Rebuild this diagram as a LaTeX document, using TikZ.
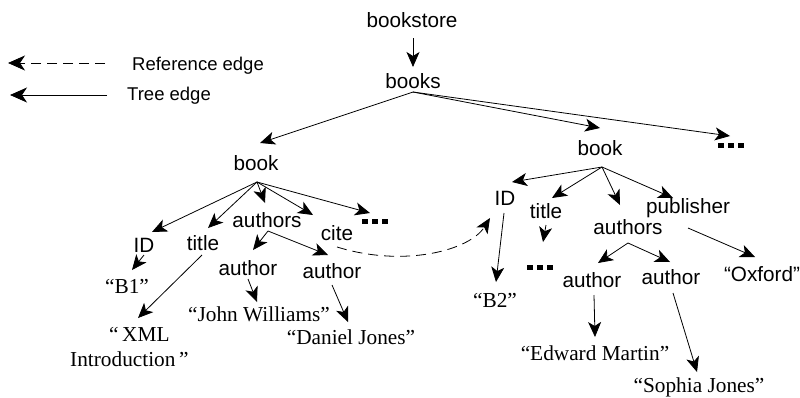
\documentclass[tikz,border=0pt]{standalone}
\usepackage{fontspec}
\setmainfont{Liberation Serif}
\setsansfont{Liberation Sans}
\usetikzlibrary{arrows.meta}

% three square dots standing for omitted children
\newcommand{\elidedkids}{\rule{5.5pt}{5.5pt}\hspace{4.5pt}\rule{5.5pt}{5.5pt}\hspace{4.5pt}\rule{5.5pt}{5.5pt}}

\tikzset{
  headtree/.tip={Stealth[length=15pt,width=13pt,inset=4pt]},
  headlegend/.tip={Stealth[length=17pt,width=15pt,inset=5pt]},
  lbl/.style={font=\fontsize{20.7}{24}\selectfont\sffamily, inner sep=0pt, anchor=base},
  val/.style={font=\fontsize{21.3}{25}\selectfont\rmfamily, inner sep=0pt, anchor=base},
  more/.style={inner sep=0pt, anchor=center},
  legendtext/.style={font=\fontsize{18.5}{22}\selectfont\sffamily, inner sep=0pt, anchor=base west},
  tree/.style={-headtree, line width=0.8pt},
  ref/.style={tree, dash pattern=on 10pt off 6pt},
  legendtip/.style={-headlegend},
}

\begin{document}
\begin{tikzpicture}[x=1pt, y=-1pt]
\useasboundingbox (0,0) rectangle (800,397);

% legend
\coordinate (refFrom) at (105,63);
\coordinate (refTo) at (8,63);
\coordinate (treeFrom) at (107,95);
\coordinate (treeTo) at (10,95);
\draw[ref, legendtip] (refFrom) -- (refTo);
\draw[tree, legendtip] (treeFrom) -- (treeTo);
\node[legendtext] (refText) at (132,70) {Reference edge};
\node[legendtext] (treeText) at (127,100) {Tree edge};

% upper levels
\node[lbl] (bookstore) at (412,27) {bookstore};
\node[lbl] (books) at (413,88) {books};
\node[lbl] (bookL) at (256,170) {book};
\node[lbl] (bookR) at (600,155) {book};
\node[more] (dotsTop) at (731,145.5) {\elidedkids};

% first book
\node[lbl] (idL) at (144,252) {ID};
\node[lbl] (titleL) at (203,250) {title};
\node[lbl] (authorsL) at (267,227) {authors};
\node[lbl] (citeL) at (337,240) {cite};
\node[more] (dotsL) at (375,221.5) {\elidedkids};
\node[val] (b1) at (127,293) {“B1”};
\node[val, anchor=north west, align=left] (xml) at (70,327) {\hspace*{39pt}“\,XML\\Introduction\,”};
\node[lbl] (author1L) at (248,275) {author};
\node[lbl] (author2L) at (332,278) {author};
\node[val] (john) at (259,321) {“John Williams”};
\node[val] (daniel) at (351,344) {“Daniel Jones”};

% second book
\node[lbl] (idR) at (505,205) {ID};
\node[lbl] (titleR) at (546,218) {title};
\node[lbl] (authorsR) at (628,234) {authors};
\node[lbl] (publisher) at (688,213) {publisher};
\node[more] (dotsR) at (540,267.5) {\elidedkids};
\node[val] (b2) at (495,307) {“B2”};
\node[lbl] (author1R) at (592,287) {author};
\node[lbl] (author2R) at (671,284) {author};
\node[lbl] (oxford) at (762,281) {“Oxford”};
\node[val] (edward) at (595,360) {“Edward Martin”};
\node[val] (sophia) at (699,392) {“Sophia Jones”};

% tree edges
\draw[tree] ([xshift=1pt,yshift=-11pt]bookstore.base) -- ([yshift=21pt]books.base);
\draw[tree] ([yshift=-4pt]books.base) -- ([xshift=4pt,yshift=27pt]bookL.base);
\draw[tree] ([yshift=-4pt]books.base) -- ([yshift=27pt]bookR.base);
\draw[tree] ([yshift=-4pt]books.base) -- ([xshift=-1pt,yshift=9.5pt]dotsTop.center);

\draw[tree] ([xshift=1pt,yshift=-12pt]bookL.base) -- ([xshift=8pt,yshift=20pt]idL.base);
\draw[tree] ([xshift=1pt,yshift=-12pt]bookL.base) -- ([xshift=5pt,yshift=22pt]titleL.base);
\draw[tree] ([xshift=1pt,yshift=-12pt]bookL.base) -- ([xshift=-2pt,yshift=24pt]authorsL.base);
\draw[tree] ([xshift=1pt,yshift=-12pt]bookL.base) -- ([xshift=-24pt,yshift=25pt]citeL.base);
\draw[tree] ([xshift=1pt,yshift=-12pt]bookL.base) -- ([xshift=-5pt,yshift=8.5pt]dotsL.center);

\draw[tree] ([yshift=-3pt]idL.base) -- ([xshift=5pt,yshift=23pt]b1.base);
\draw[tree] ([xshift=-1pt,yshift=-5pt]titleL.base) -- ([xshift=68pt,yshift=9pt]xml.north west);
\draw[tree] ([xshift=1pt,yshift=-4pt]authorsL.base) -- ([xshift=5pt,yshift=25pt]author1L.base);
\draw[tree] ([xshift=1pt,yshift=-4pt]authorsL.base) -- ([xshift=-4pt,yshift=23pt]author2L.base);
\draw[tree] ([yshift=-4pt]author1L.base) -- ([xshift=-2pt,yshift=19pt]john.base);
\draw[tree] ([yshift=-7pt]author2L.base) -- ([xshift=-3pt,yshift=22pt]daniel.base);

\draw[tree] ([xshift=2pt,yshift=-12pt]bookR.base) -- ([xshift=7pt,yshift=23pt]idR.base);
\draw[tree] ([xshift=2pt,yshift=-12pt]bookR.base) -- ([xshift=6pt,yshift=20pt]titleR.base);
\draw[tree] ([xshift=2pt,yshift=-12pt]bookR.base) -- ([xshift=-8pt,yshift=29pt]authorsR.base);
\draw[tree] ([xshift=2pt,yshift=-12pt]bookR.base) -- ([xshift=-15pt,yshift=15pt]publisher.base);

\draw[tree] ([xshift=-1pt,yshift=-8pt]idR.base) -- ([xshift=1pt,yshift=25pt]b2.base);
\draw[tree] ([yshift=-7pt]titleR.base) -- ([xshift=3pt,yshift=25.5pt]dotsR.center);
\draw[tree] ([yshift=-9pt]authorsR.base) -- ([xshift=6pt,yshift=24pt]author1R.base);
\draw[tree] ([yshift=-9pt]authorsR.base) -- ([xshift=-1pt,yshift=22pt]author2R.base);
\draw[tree] ([yshift=-15pt]publisher.base) -- ([xshift=-7pt,yshift=24pt]oxford.base);
\draw[tree] ([xshift=2pt,yshift=-8pt]author1R.base) -- ([yshift=23pt]edward.base);
\draw[tree] ([xshift=2pt,yshift=-9pt]author2R.base) -- ([xshift=-2pt,yshift=20pt]sophia.base);

% reference edge from cite to the second book's ID
\draw[ref] ([yshift=-7pt]citeL.base) .. controls +(68,21) and +(-20,32) .. ([xshift=-15pt,yshift=-13pt]idR.base);
\end{tikzpicture}
\end{document}
